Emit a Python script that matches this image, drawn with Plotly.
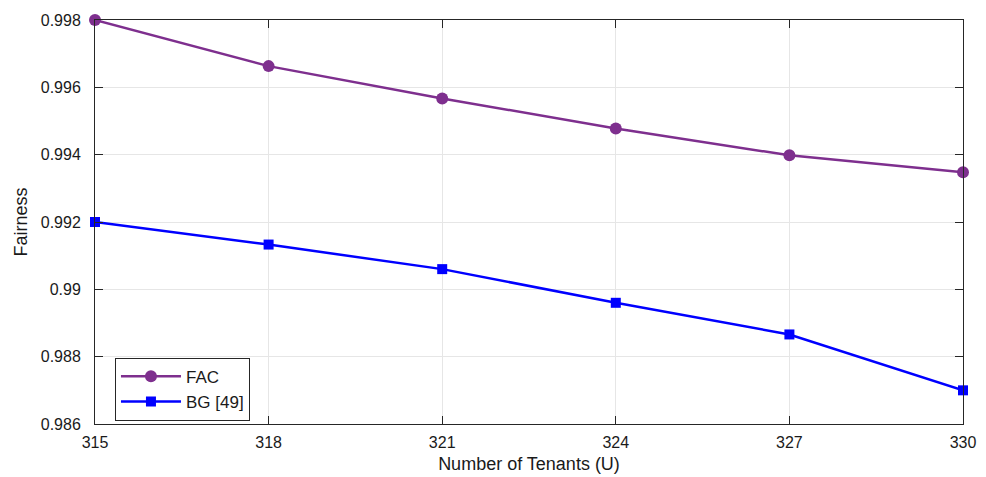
import plotly.graph_objects as go

tenants = [315, 318, 321, 324, 327, 330]
fac = [0.998, 0.99663, 0.99567, 0.99478, 0.99398, 0.99348]
bg = [0.9920, 0.99133, 0.99060, 0.98960, 0.98866, 0.98700]
y_ticks = [0.986, 0.988, 0.99, 0.992, 0.994, 0.996, 0.998]
y_tick_labels = ["0.986", "0.988", "0.99", "0.992", "0.994", "0.996", "0.998"]

FONT = "Liberation Sans, Arial, sans-serif"

fig = go.Figure()
fig.add_trace(go.Scatter(x=tenants, y=fac, name="FAC", mode="lines+markers",
                         line=dict(color="#7E2F8E", width=2.5),
                         marker=dict(symbol="circle", size=12, color="#7E2F8E"),
                         cliponaxis=False))
fig.add_trace(go.Scatter(x=tenants, y=bg, name="BG [49]", mode="lines+markers",
                         line=dict(color="#0000FF", width=2.5),
                         marker=dict(symbol="square", size=10, color="#0000FF"),
                         cliponaxis=False))

axis_common = dict(showline=True, linecolor="#262626", linewidth=1, mirror="ticks",
                   ticks="inside", ticklen=8, tickcolor="#262626",
                   showgrid=True, gridcolor="#E6E6E6", gridwidth=1, zeroline=False,
                   automargin=False,
                   tickfont=dict(family=FONT, size=16, color="#1a1a1a"))

fig.update_xaxes(range=[315, 330], tickvals=tenants, ticktext=[str(t) for t in tenants],
                 ticklabelstandoff=4,
                 title=dict(text="Number of Tenants (U)", standoff=7,
                            font=dict(family=FONT, size=18, color="#1a1a1a")),
                 **axis_common)
fig.update_yaxes(range=[0.986, 0.998], tickvals=y_ticks, ticktext=y_tick_labels,
                 ticklabelstandoff=10,
                 title=dict(text="Fairness", standoff=8,
                            font=dict(family=FONT, size=18, color="#1a1a1a")),
                 **axis_common)

fig.update_layout(width=986, height=477, margin=dict(l=87, r=31, t=12, b=61),
                  plot_bgcolor="white", paper_bgcolor="white",
                  font=dict(family=FONT, size=16, color="#1a1a1a"),
                  legend=dict(x=0.023, y=0.008, xanchor="left", yanchor="bottom",
                              bgcolor="white", bordercolor="#262626", borderwidth=1,
                              font=dict(size=17), tracegroupgap=0, itemwidth=60))
fig.write_html("out.html")
